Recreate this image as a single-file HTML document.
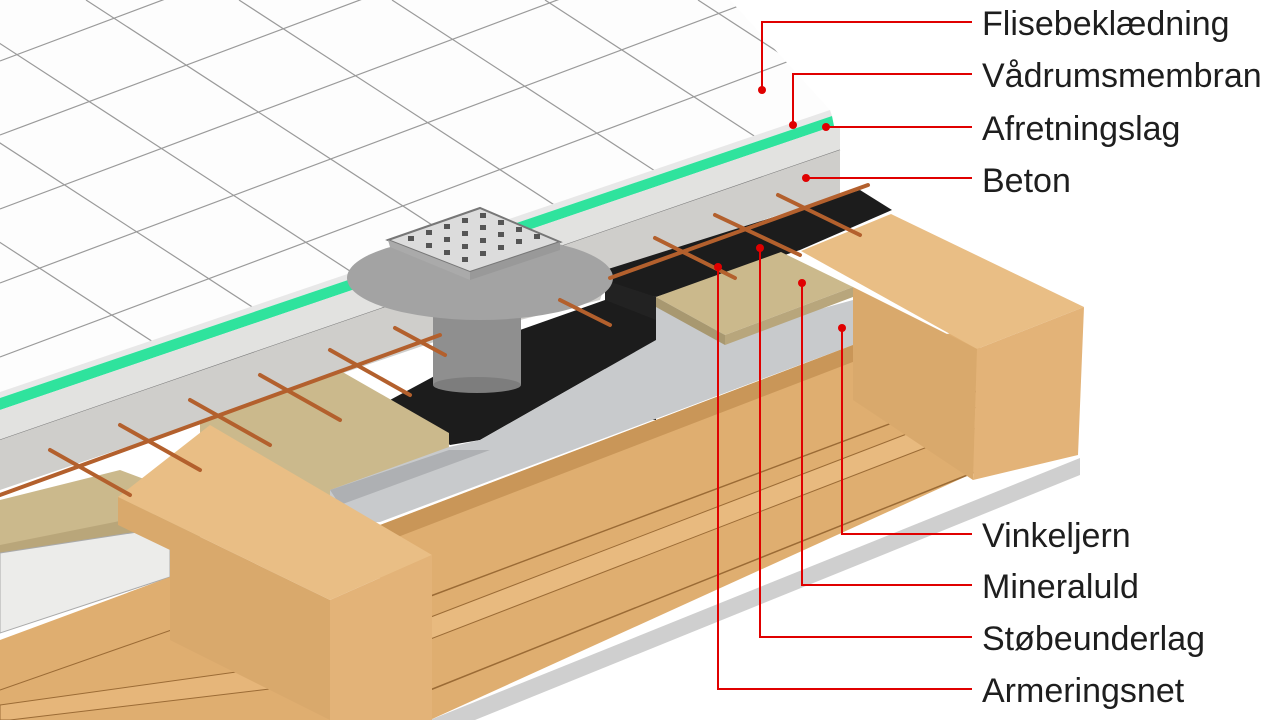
<!DOCTYPE html>
<html><head><meta charset="utf-8"><style>
html,body{margin:0;padding:0;background:#fff;width:1280px;height:720px;overflow:hidden}
svg{display:block}
text{font-family:"Liberation Sans",sans-serif;font-size:34px;fill:#1e1e1e}
</style></head><body>
<svg width="1280" height="720" viewBox="0 0 1280 720" xmlns="http://www.w3.org/2000/svg">
<defs>
<clipPath id="tc"><polygon points="0,0 730,0 830,110 0,392"/></clipPath>
</defs>
<!-- tile surface -->
<polygon points="0,0 730,0 830,110 0,392" fill="#fdfdfd"/>
<g clip-path="url(#tc)" stroke="#9a9a9a" stroke-width="1.2">
<line x1="0" y1="61" x2="1000" y2="-314"/>
<line x1="0" y1="135" x2="1000" y2="-240"/>
<line x1="0" y1="209" x2="1000" y2="-166"/>
<line x1="0" y1="283" x2="1000" y2="-92"/>
<line x1="0" y1="357" x2="1000" y2="-18"/>
<line x1="0" y1="431" x2="1000" y2="56"/>
<line x1="0" y1="505" x2="1000" y2="130"/>
<line x1="0" y1="579" x2="1000" y2="204"/>
<line x1="-220" y1="0" x2="380" y2="390"/>
<line x1="-67" y1="0" x2="533" y2="390"/>
<line x1="86" y1="0" x2="686" y2="390"/>
<line x1="239" y1="0" x2="839" y2="390"/>
<line x1="392" y1="0" x2="992" y2="390"/>
<line x1="545" y1="0" x2="1145" y2="390"/>
<line x1="698" y1="0" x2="1298" y2="390"/>
<line x1="-373" y1="0" x2="227" y2="390"/>
</g>
<!-- tile edge -->
<polygon points="0,392 830,110 832,116 0,398" fill="#e8e8e8"/>
<!-- green membrane -->
<polygon points="0,398 832,116 834,126 0,410" fill="#2fe39d"/>
<!-- leveling layer -->
<polygon points="0,410 834,126 840,128 840,150 0,440" fill="#e2e2e0"/>
<line x1="0" y1="440" x2="840" y2="150" stroke="#777" stroke-width="1"/>
<!-- concrete -->
<polygon points="0,440 840,150 840,195 610,270 600,300 440,340 0,490" fill="#cfcecb"/>
<!-- black membrane top strip -->
<polygon points="605,270 860,190 892,210 800,250 656,297 605,285" fill="#1c1c1c"/>
<!-- black vertical face + floor around drain -->
<polygon points="605,280 656,297 656,420 605,420" fill="#222"/>
<polygon points="390,400 520,330 605,300 656,320 656,340 480,440 450,445" fill="#1c1c1c"/>
<!-- drain pipe -->
<rect x="433" y="300" width="88" height="85" fill="#8f8f8f"/>
<ellipse cx="477" cy="385" rx="44" ry="8" fill="#7d7d7d"/>
<!-- drain flange -->
<ellipse cx="480" cy="278" rx="133" ry="42" fill="#a3a3a3"/>
<!-- grate -->
<polygon points="388,240 480,208 560,242 470,272" fill="#dcdcdc" stroke="#777" stroke-width="2"/>
<polygon points="470,272 560,242 560,250 470,280" fill="#999"/>
<polygon points="388,240 470,272 470,280 390,247" fill="#aaa"/>
<g fill="#555">
<rect x="408" y="236" width="6" height="5"/><rect x="426" y="230" width="6" height="5"/><rect x="444" y="224" width="6" height="5"/><rect x="462" y="218" width="6" height="5"/><rect x="480" y="213" width="6" height="5"/>
<rect x="426" y="243" width="6" height="5"/><rect x="444" y="237" width="6" height="5"/><rect x="462" y="231" width="6" height="5"/><rect x="480" y="225" width="6" height="5"/><rect x="498" y="220" width="6" height="5"/>
<rect x="444" y="250" width="6" height="5"/><rect x="462" y="244" width="6" height="5"/><rect x="480" y="238" width="6" height="5"/><rect x="498" y="232" width="6" height="5"/><rect x="516" y="227" width="6" height="5"/>
<rect x="462" y="257" width="6" height="5"/><rect x="480" y="251" width="6" height="5"/><rect x="498" y="245" width="6" height="5"/><rect x="516" y="239" width="6" height="5"/><rect x="534" y="234" width="6" height="5"/>
</g>
<!-- mineral wool left -->
<polygon points="200,420 339,370 449,433 449,455 300,510 200,470" fill="#cbb98c"/>
<polygon points="0,500 120,470 200,500 200,540 0,560" fill="#cbb98c"/>
<polygon points="0,545 200,505 200,540 0,575" fill="#b9a67a"/>
<!-- steel angle -->
<polygon points="330,490 449,447 480,440 656,340 656,300 725,335 853,300 853,345 380,522 330,525" fill="#c8cacc"/>
<polygon points="330,490 449,450 490,450 340,505" fill="#aeb0b3"/>
<!-- mineral wool right -->
<polygon points="656,297 781,252 853,287 725,335" fill="#cbb98c"/>
<polygon points="656,297 725,335 725,345 656,307" fill="#a89870"/>
<polygon points="725,335 853,287 853,297 725,345" fill="#b8a67c"/>
<!-- white boards lower left -->
<polygon points="0,553 170,527 170,577 0,633" fill="#ececea" stroke="#aaa"/>
<!-- lower wood structure -->
<polygon points="380,525 853,345 980,330 980,470 430,720 380,720" fill="#dfae70"/>
<polygon points="380,525 853,345 858,360 390,540" fill="#c99658"/>
<line x1="420" y1="600" x2="980" y2="390" stroke="#9b6b35" stroke-width="1.5"/>
<line x1="430" y1="690" x2="980" y2="470" stroke="#9b6b35" stroke-width="1.5"/>
<!-- ledge board -->
<polygon points="410,625 990,402 992,422 415,645" fill="#e8ba7f" stroke="#9b6b35" stroke-width="1"/>
<!-- gray base -->
<polygon points="430,720 1080,458 1080,475 475,720" fill="#cfcfcf"/>
<!-- left lower wood -->
<polygon points="0,640 170,577 330,650 330,720 0,720" fill="#dfae70"/>
<line x1="0" y1="690" x2="200" y2="620" stroke="#9b6b35"/>
<polygon points="0,705 322,660 328,682 10,720 0,720" fill="#e6b67a" stroke="#9b6b35"/>
<!-- left beam -->
<polygon points="118,497 210,425 432,555 330,600" fill="#e9be85"/>
<polygon points="118,497 330,600 330,720 170,640 170,550 118,525" fill="#d9a96c"/>
<polygon points="330,600 432,555 432,720 330,720" fill="#e3b378"/>
<!-- right beam -->
<polygon points="801,251 891,214 1084,307 977,349" fill="#e9be85"/>
<polygon points="853,287 977,349 973,480 853,400" fill="#d9a96c"/>
<polygon points="977,349 1084,307 1078,455 973,480" fill="#e3b378"/>
<!-- rebar -->
<g stroke="#b3602d" stroke-width="4" stroke-linecap="round">
<line x1="0" y1="495" x2="440" y2="335"/>
<line x1="50" y1="450" x2="130" y2="495"/>
<line x1="120" y1="425" x2="200" y2="470"/>
<line x1="190" y1="400" x2="270" y2="445"/>
<line x1="260" y1="375" x2="340" y2="420"/>
<line x1="330" y1="350" x2="410" y2="395"/>
<line x1="395" y1="328" x2="445" y2="355"/>
<line x1="560" y1="300" x2="610" y2="325"/>
<line x1="610" y1="278" x2="868" y2="185"/>
<line x1="655" y1="238" x2="735" y2="278"/>
<line x1="715" y1="215" x2="800" y2="255"/>
<line x1="778" y1="195" x2="860" y2="235"/>
</g>
<!-- leaders -->
<g stroke="#e00000" stroke-width="2" fill="none">
<polyline points="762,90 762,22 972,22"/>
<polyline points="793,125 793,74 972,74"/>
<polyline points="826,127 972,127"/>
<polyline points="806,178 972,178"/>
<polyline points="842,328 842,534 972,534"/>
<polyline points="802,283 802,585 972,585"/>
<polyline points="760,248 760,637 972,637"/>
<polyline points="718,267 718,689 972,689"/>
</g>
<g fill="#e00000">
<circle cx="762" cy="90" r="4"/><circle cx="793" cy="125" r="4"/><circle cx="826" cy="127" r="4"/><circle cx="806" cy="178" r="4"/>
<circle cx="842" cy="328" r="4"/><circle cx="802" cy="283" r="4"/><circle cx="760" cy="248" r="4"/><circle cx="718" cy="267" r="4"/>
</g>
<text x="982" y="35">Flisebeklædning</text>
<text x="982" y="87">Vådrumsmembran</text>
<text x="982" y="140">Afretningslag</text>
<text x="982" y="192">Beton</text>
<text x="982" y="547">Vinkeljern</text>
<text x="982" y="598">Mineraluld</text>
<text x="982" y="650">Støbeunderlag</text>
<text x="982" y="702">Armeringsnet</text>
</svg>
</body></html>
